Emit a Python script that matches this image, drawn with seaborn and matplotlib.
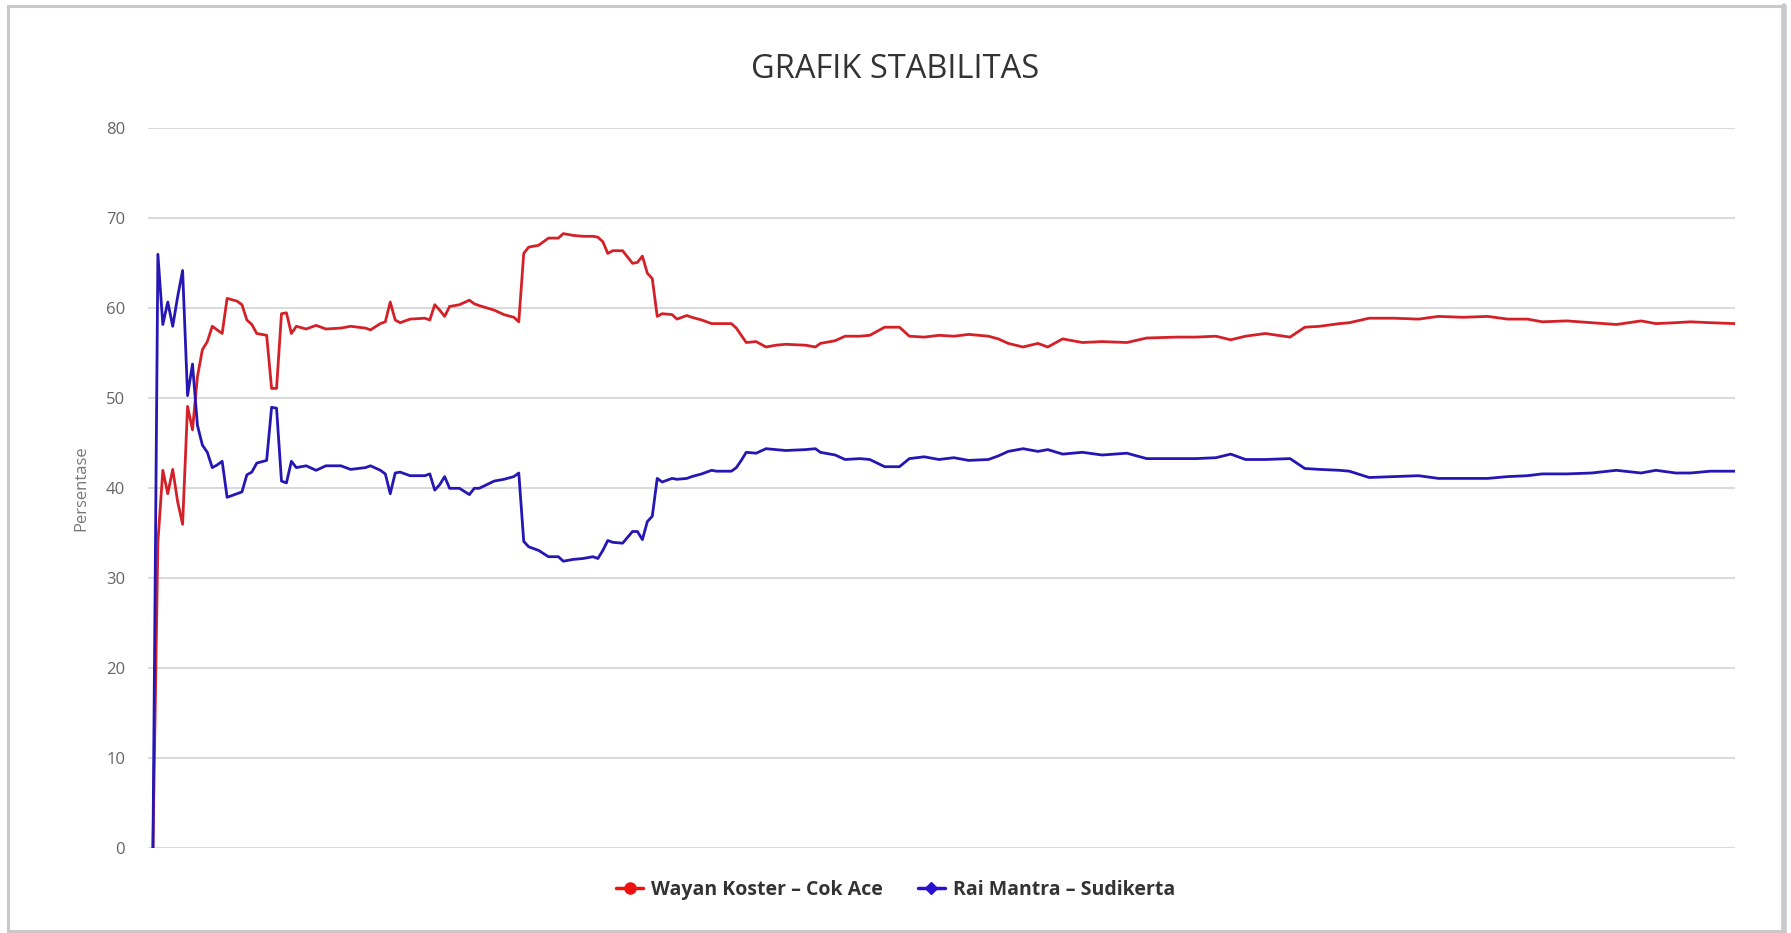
import numpy as np
import pandas as pd
import matplotlib
matplotlib.use("Agg")
import matplotlib.pyplot as plt
import seaborn as sns
from matplotlib.lines import Line2D
from matplotlib.patches import Rectangle

# observation index (x axis carries no labels in the original)
x_idx = [0, 1, 2, 3, 4, 5, 6, 7, 8, 9, 10, 11, 12, 13, 14, 15, 17, 18, 19, 20,
         21, 23, 24, 25, 26, 27, 28, 29, 31, 33, 35, 38, 40, 43, 44, 46, 47, 48, 49, 50,
         52, 55, 56, 57, 58, 59, 60, 62, 64, 65, 66, 69, 71, 73, 74, 75, 76, 78, 80, 82,
         83, 85, 87, 89, 90, 91, 92, 93, 95, 97, 98, 99, 100, 101, 102, 103, 105, 106, 108, 109,
         111, 113, 114, 117, 118, 119, 120, 122, 124, 126, 128, 132, 134, 135, 138, 140, 143, 145, 148, 151,
         153, 156, 159, 162, 165, 169, 171, 173, 176, 179, 181, 184, 188, 192, 197, 201, 207, 211, 215, 218,
         221, 225, 230, 233, 236, 240, 242, 246, 251, 256, 260, 265, 270, 274, 278, 281, 286, 291, 296, 301,
         304, 308, 311, 315, 320]

koster = [0, 34, 42, 39.4, 42.1, 38.5, 36, 49.1, 46.5, 52.4, 55.4, 56.3, 58, 57.6, 57.2, 61.1, 60.8, 60.4, 58.7, 58.2,
          57.2, 57.0, 51.1, 51.1, 59.4, 59.5, 57.2, 58, 57.7, 58.1, 57.7, 57.8, 58, 57.8, 57.6, 58.3, 58.5, 60.7, 58.7, 58.4,
          58.8, 58.9, 58.7, 60.4, 59.8, 59.1, 60.2, 60.4, 60.9, 60.5, 60.3, 59.8, 59.3, 59, 58.5, 66.1, 66.8, 67, 67.8, 67.8,
          68.3, 68.1, 68, 68, 67.9, 67.4, 66.1, 66.4, 66.4, 65, 65.1, 65.8, 63.9, 63.3, 59.1, 59.4, 59.3, 58.8, 59.2, 59,
          58.7, 58.3, 58.3, 58.3, 57.8, 57, 56.2, 56.3, 55.7, 55.9, 56, 55.9, 55.7, 56.1, 56.4, 56.9, 56.9, 57, 57.9, 57.9,
          56.9, 56.8, 57, 56.9, 57.1, 56.9, 56.6, 56.1, 55.7, 56.1, 55.7, 56.6, 56.2, 56.3, 56.2, 56.7, 56.8, 56.8, 56.9, 56.5,
          56.9, 57.2, 56.8, 57.9, 58, 58.3, 58.4, 58.9, 58.9, 58.8, 59.1, 59, 59.1, 58.8, 58.8, 58.5, 58.6, 58.4, 58.2, 58.6,
          58.3, 58.4, 58.5, 58.4, 58.3]

mantra = [0, 66, 58.2, 60.7, 58, 61.3, 64.2, 50.3, 53.8, 47, 44.8, 44, 42.3, 42.6, 43, 39, 39.4, 39.6, 41.5, 41.8,
          42.8, 43.1, 49, 48.9, 40.8, 40.6, 43, 42.3, 42.5, 42, 42.5, 42.5, 42.1, 42.3, 42.5, 42, 41.6, 39.4, 41.7, 41.8,
          41.4, 41.4, 41.6, 39.8, 40.4, 41.3, 40, 40, 39.3, 40, 40, 40.8, 41, 41.3, 41.7, 34.1, 33.5, 33.1, 32.4, 32.4,
          31.9, 32.1, 32.2, 32.4, 32.2, 33.1, 34.2, 34, 33.9, 35.2, 35.2, 34.3, 36.3, 36.9, 41.1, 40.7, 41.1, 41, 41.1, 41.3,
          41.6, 42, 41.9, 41.9, 42.3, 43.1, 44, 43.9, 44.4, 44.3, 44.2, 44.3, 44.4, 44, 43.7, 43.2, 43.3, 43.2, 42.4, 42.4,
          43.3, 43.5, 43.2, 43.4, 43.1, 43.2, 43.6, 44.1, 44.4, 44.1, 44.3, 43.8, 44, 43.7, 43.9, 43.3, 43.3, 43.3, 43.4, 43.8,
          43.2, 43.2, 43.3, 42.2, 42.1, 42, 41.9, 41.2, 41.3, 41.4, 41.1, 41.1, 41.1, 41.3, 41.4, 41.6, 41.6, 41.7, 42, 41.7,
          42, 41.7, 41.7, 41.9, 41.9]

series_names = ["Wayan Koster \u2013 Cok Ace", "Rai Mantra \u2013 Sudikerta"]
colors = ["#d42128", "#2616b4"]
marker_colors = ["#ee1111", "#2a10d0"]
y_ticks = [0, 10, 20, 30, 40, 50, 60, 70, 80]

assert len(x_idx) == len(koster) == len(mantra)

df = pd.DataFrame({
    "idx": x_idx * 2,
    "Persentase": koster + mantra,
    "Pasangan": [series_names[0]] * len(x_idx) + [series_names[1]] * len(x_idx),
})

sns.set_style("white")
plt.rcParams["font.family"] = ["Open Sans", "DejaVu Sans"]

W, H = 1791, 933
fig = plt.figure(figsize=(W / 100, H / 100), dpi=100)
ax = fig.add_axes([148 / W, 1 - 848.3 / H, (1735 - 148) / W, (848.3 - 128.3) / H])

sns.lineplot(data=df, x="idx", y="Persentase", hue="Pasangan",
             palette=dict(zip(series_names, colors)), linewidth=2.0,
             legend=False, ax=ax, estimator=None, sort=False)

ax.set_xlim(-1, 320)
ax.set_ylim(0, 80)
ax.set_yticks(y_ticks)
ax.set_xticks([])
ax.yaxis.grid(True, color="#d9d9d9", linewidth=1.4)
ax.set_axisbelow(True)
for s in ax.spines.values():
    s.set_visible(False)
ax.tick_params(axis="y", length=0, pad=16.5, labelsize=12, labelcolor="#666666")
ax.set_xlabel("")
ax.set_ylabel("Persentase", fontsize=12, color="#777777", labelpad=12)

fig.text(0.5, 1 - 70 / H, "GRAFIK STABILITAS", ha="center", va="center",
         fontsize=23.5, color="#333333")

# legend with line + marker swatches, centred under the plot
handles = [
    Line2D([], [], color=marker_colors[0], lw=2.5, marker="o", markersize=8),
    Line2D([], [], color=marker_colors[1], lw=2.5, marker="D", markersize=6.5),
]
fig.legend(handles, series_names, loc="center", bbox_to_anchor=(0.5, 1 - 890 / H),
           ncol=2, frameon=False, handlelength=1.4, handletextpad=0.4, columnspacing=1.8,
           prop={"size": 14, "weight": "bold"}, labelcolor="#333333")

# light grey frame round the whole picture
fig.patches.append(Rectangle((8 / W, 0.002), (1783 - 8) / W, 1 - 6 / H - 0.002,
                             transform=fig.transFigure, fill=False,
                             edgecolor="#c9c9c9", linewidth=2.2))
fig.add_artist(Line2D([1784 / W, 1784 / W], [0, 1 - 6 / H], transform=fig.transFigure,
                      color="#c9c9c9", linewidth=4))

fig.savefig("out.png", dpi=100)
